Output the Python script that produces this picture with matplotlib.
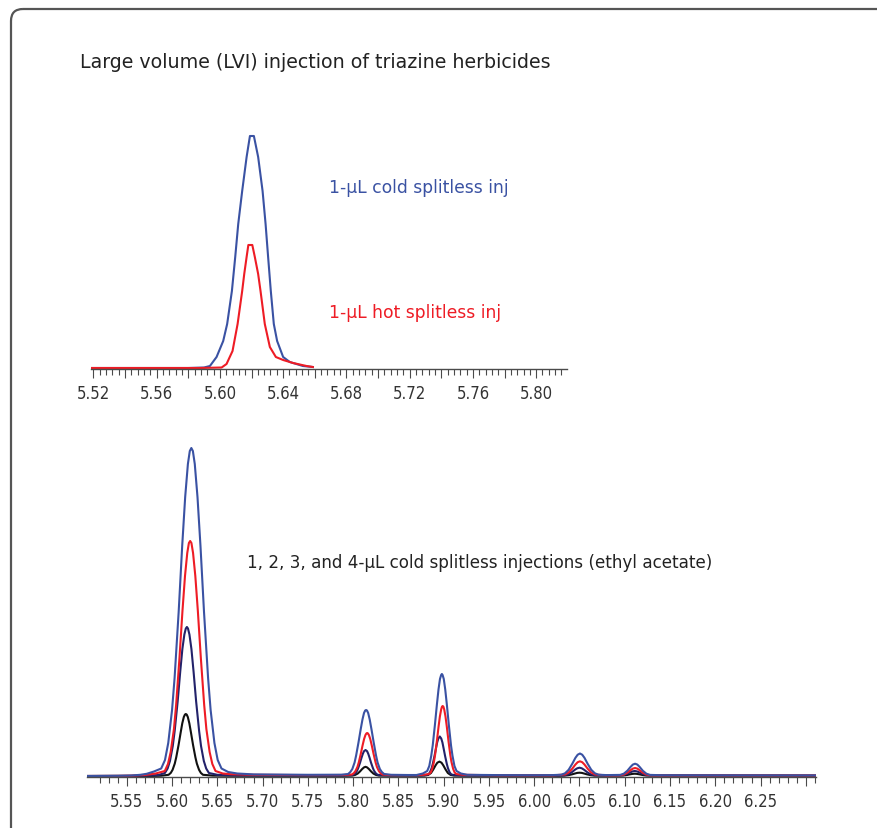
import matplotlib
matplotlib.use("Agg")
import numpy as np
import matplotlib.pyplot as plt
from matplotlib import font_manager
from matplotlib.patches import FancyBboxPatch
from matplotlib.ticker import FixedLocator

plt.rcParams['font.family'] = ['DejaVu Sans']

# ---- data: top panel (1-uL injections), time in min, response in arbitrary units ----
top_cold_t = [5.5185, 5.5800, 5.5900, 5.5937, 5.5979, 5.6021, 5.6046, 5.6076, 5.6097, 5.6116,
              5.6141, 5.6169, 5.6190, 5.6215, 5.6242, 5.6270, 5.6289, 5.6305, 5.6322, 5.6341,
              5.6362, 5.6400, 5.6442, 5.6525, 5.6588]
top_cold_y = [0, 0, 0.5, 2, 11, 27, 44, 77, 111, 144,
              177, 211, 232, 232, 211, 177, 144, 111, 77, 44,
              27, 11, 6, 2, 1]

top_hot_t = [5.5185, 5.5874, 5.6011, 5.6042, 5.6080, 5.6112, 5.6141, 5.6154, 5.6169, 5.6180,
             5.6205, 5.6221, 5.6242, 5.6257, 5.6284, 5.6316, 5.6354, 5.6400, 5.6463, 5.6548,
             5.6588]
top_hot_y = [0, 0, 0.5, 4, 17, 44, 77, 94, 111, 123,
             123, 111, 94, 77, 44, 21, 11, 8, 5, 2,
             1]

# ---- data: bottom panel (1, 2, 3, 4-uL cold splitless) ----
inj4_t = [5.5064, 5.540, 5.555, 5.565, 5.572, 5.580, 5.5880, 5.5922, 5.5958, 5.6000,
          5.6028, 5.6073, 5.6112, 5.6145, 5.6175, 5.6196, 5.6213, 5.6230, 5.6251, 5.6281,
          5.6314, 5.6353, 5.6398, 5.6426, 5.6468, 5.6504, 5.6546, 5.6620, 5.6720, 5.6900,
          5.7500, 5.7870,
          5.7944, 5.7969, 5.7991, 5.8016, 5.8033, 5.8059, 5.8083, 5.8103, 5.8120, 5.8133,
          5.8143, 5.8153, 5.8166, 5.8183, 5.8203, 5.8227, 5.8253, 5.8270, 5.8295, 5.8317,
          5.8342, 5.8420, 5.8600, 5.8700,
          5.8770, 5.8818, 5.8841, 5.8863, 5.8879, 5.8903, 5.8925, 5.8943, 5.8959, 5.8972,
          5.8980, 5.8988, 5.9001, 5.9017, 5.9035, 5.9057, 5.9081, 5.9097, 5.9119, 5.9142,
          5.9190, 5.9260, 5.9600, 6.0000, 6.0200,
          6.0300, 6.0340, 6.0380, 6.0420, 6.0455, 6.0480, 6.0505, 6.0530, 6.0555, 6.0590,
          6.0630, 6.0670, 6.0710, 6.0800,
          6.0949, 6.0989, 6.1029, 6.1064, 6.1089, 6.1114, 6.1139, 6.1164, 6.1199, 6.1239,
          6.1279, 6.1400, 6.2000, 6.3110]
inj4_y = [0, 0.2, 0.5, 1.2, 2.2, 4.5, 7.5, 16, 33, 66,
          98, 164, 230, 279, 312, 325, 328, 325, 312, 279,
          230, 164, 98, 66, 33, 16, 7.5, 4, 2.5, 1.6,
          1.2, 1.3,
          2, 4, 7, 13.5, 20.5, 33.5, 46.5, 56.5, 63, 65.5,
          66, 65.5, 63, 56.5, 46.5, 33.5, 20.5, 13.5, 7, 4,
          2, 1.2, 1.0, 1.0,
          2.5, 5, 10, 20.4, 30.6, 51, 71.4, 86.7, 97, 101,
          102, 101, 97, 86.7, 71.4, 51, 30.6, 20.4, 10, 5,
          2.5, 1.2, 0.9, 0.8, 0.9,
          1.3, 2.7, 6.2, 12.2, 18.2, 21.3, 22.5, 21.3, 18.2, 12.2,
          6.2, 2.7, 1.3, 0.9,
          1.1, 2.3, 5.3, 9.1, 11.4, 12.3, 11.4, 9.1, 5.3, 2.3,
          1.1, 0.8, 0.7, 0.6]

inj3_t = [5.5064, 5.540, 5.555, 5.570, 5.582, 5.5920, 5.5955, 5.5985, 5.6021, 5.6045,
          5.6082, 5.6115, 5.6143, 5.6168, 5.6186, 5.6200, 5.6214, 5.6232, 5.6257, 5.6285,
          5.6318, 5.6355, 5.6379, 5.6415, 5.6445, 5.6480, 5.6560, 5.6650, 5.6900, 5.7500,
          5.7900,
          5.7987, 5.8008, 5.8026, 5.8047, 5.8062, 5.8084, 5.8104, 5.8121, 5.8136, 5.8147,
          5.8155, 5.8163, 5.8174, 5.8189, 5.8206, 5.8226, 5.8248, 5.8263, 5.8284, 5.8302,
          5.8323, 5.8400, 5.8700, 5.8780,
          5.8838, 5.8857, 5.8873, 5.8892, 5.8905, 5.8925, 5.8943, 5.8958, 5.8972, 5.8981,
          5.8989, 5.8997, 5.9006, 5.9020, 5.9035, 5.9053, 5.9073, 5.9086, 5.9105, 5.9121,
          5.9140, 5.9210, 5.9600, 6.0200,
          6.0340, 6.0380, 6.0420, 6.0455, 6.0480, 6.0505, 6.0530, 6.0555, 6.0590, 6.0630,
          6.0670, 6.0800,
          6.0949, 6.0989, 6.1029, 6.1064, 6.1089, 6.1114, 6.1139, 6.1164, 6.1199, 6.1239,
          6.1279, 6.1400, 6.3110]
inj3_y = [0, 0.1, 0.3, 1, 2.5, 5, 12, 24, 47, 71,
          118, 165, 200, 223, 233, 235, 233, 223, 200, 165,
          118, 71, 47, 24, 12, 5, 2.5, 1.8, 1.2, 0.9,
          1.0,
          1.5, 2.9, 5, 9, 13.5, 22, 30.5, 37, 41, 42.6,
          43, 42.6, 41, 37, 30.5, 22, 13.5, 9, 5, 2.9,
          1.5, 0.9, 0.9, 1.2,
          2, 3.5, 7, 14, 21, 35, 49, 59.5, 66.5, 69.3,
          70, 69.3, 66.5, 59.5, 49, 35, 21, 14, 7, 3.5,
          2, 1.2, 0.7, 0.6,
          1.5, 3.5, 7.3, 11.5, 13.8, 14.7, 13.8, 11.5, 7.3, 3.5,
          1.5, 0.6,
          0.7, 1.4, 3.3, 5.8, 7.4, 8.0, 7.4, 5.8, 3.3, 1.4,
          0.7, 0.6, 0.5]

inj2_t = [5.5064, 5.555, 5.570, 5.585, 5.5921, 5.5951, 5.5977, 5.6008, 5.6029, 5.6062,
          5.6090, 5.6114, 5.6136, 5.6152, 5.6164, 5.6176, 5.6192, 5.6214, 5.6238, 5.6266,
          5.6299, 5.6320, 5.6351, 5.6377, 5.6407, 5.6500, 5.6700, 5.7000, 5.7900,
          5.7992, 5.8010, 5.8025, 5.8044, 5.8056, 5.8076, 5.8093, 5.8107, 5.8120, 5.8137,
          5.8154, 5.8167, 5.8181, 5.8198, 5.8218, 5.8230, 5.8249, 5.8264, 5.8282, 5.8400,
          5.8750,
          5.8817, 5.8835, 5.8850, 5.8867, 5.8879, 5.8898, 5.8915, 5.8928, 5.8941, 5.8957,
          5.8973, 5.8986, 5.8999, 5.9016, 5.9035, 5.9047, 5.9064, 5.9079, 5.9097, 5.9200,
          6.0250,
          6.0335, 6.0375, 6.0415, 6.0450, 6.0475, 6.0500, 6.0525, 6.0550, 6.0585, 6.0625,
          6.0665, 6.0800,
          6.0945, 6.0985, 6.1025, 6.1060, 6.1085, 6.1110, 6.1135, 6.1160, 6.1195, 6.1235,
          6.1275, 6.3110]
inj2_y = [0, 0.1, 0.3, 1, 3, 7.5, 15, 30, 45, 74.5,
          104, 127, 141.5, 147.5, 149, 147.5, 141.5, 127, 104, 74.5,
          45, 30, 15, 7.5, 3, 1.2, 0.6, 0.5, 0.5,
          1, 1.6, 2.8, 5.4, 8, 13.2, 18.4, 22.2, 24.8, 26,
          24.8, 22.2, 18.4, 13.2, 8, 5.4, 2.8, 1.6, 1, 0.5,
          0.5,
          1.2, 2, 4, 7.9, 11.9, 19.8, 27.7, 33.6, 37.5, 39.5,
          37.5, 33.6, 27.7, 19.8, 11.9, 7.9, 4, 2, 1.2, 0.5,
          0.4,
          0.7, 1.6, 3.8, 6.3, 7.7, 8.3, 7.7, 6.3, 3.8, 1.6,
          0.7, 0.4,
          0.5, 0.9, 2.1, 3.65, 4.6, 5.0, 4.6, 3.65, 2.1, 0.9,
          0.5, 0.4]

inj1_t = [5.5064, 5.580, 5.5880, 5.5962, 5.5986, 5.6006, 5.6030, 5.6046, 5.6072, 5.6095,
          5.6113, 5.6130, 5.6142, 5.6152, 5.6162, 5.6174, 5.6191, 5.6209, 5.6232, 5.6258,
          5.6274, 5.6298, 5.6318, 5.6342, 5.6450, 5.6600, 5.7900,
          5.7990, 5.8020, 5.8050, 5.8075, 5.8100, 5.8120, 5.8137, 5.8154, 5.8174, 5.8199,
          5.8224, 5.8254, 5.8284, 5.8790,
          5.8830, 5.8860, 5.8885, 5.8910, 5.8930, 5.8953, 5.8976, 5.8996, 5.9021, 5.9046,
          5.9076, 5.9116, 6.0300,
          6.0335, 6.0375, 6.0415, 6.0450, 6.0475, 6.0500, 6.0525, 6.0550, 6.0585, 6.0625,
          6.0665,
          6.0985, 6.1025, 6.1060, 6.1085, 6.1110, 6.1135, 6.1160, 6.1195, 6.1235, 6.3110]
inj1_y = [0, 0.1, 0.3, 1.2, 3.1, 6.2, 12.4, 18.6, 31, 43.4,
          52.7, 59, 61.4, 62, 61.4, 59, 52.7, 43.4, 31, 18.6,
          12.4, 6.2, 3.1, 1.2, 0.4, 0.3, 0.3,
          0.4, 1.0, 2.4, 4.5, 7, 8.6, 9.2, 8.6, 7, 4.5,
          2.4, 1.0, 0.4, 0.4,
          1.1, 3.0, 6.5, 10.6, 13.3, 14.4, 13.3, 10.6, 6.5, 3.0,
          1.1, 0.4, 0.3,
          0.4, 0.8, 1.6, 2.5, 3.1, 3.3, 3.1, 2.5, 1.6, 0.8,
          0.4,
          0.5, 1.0, 1.7, 2.1, 2.3, 2.1, 1.7, 1.0, 0.5, 0.3]

top_ticklabels = ['5.52', '5.56', '5.60', '5.64', '5.68', '5.72', '5.76', '5.80']
bottom_ticklabels = ['5.55', '5.60', '5.65', '5.70', '5.75', '5.80', '5.85', '5.90',
                     '5.95', '6.00', '6.05', '6.10', '6.15', '6.20', '6.25']

BLUE = '#3a52a3'
RED = '#ee1c25'
NAVY = '#23226a'
BLACK = '#111111'
AXCOL = '#4a4a4a'

# condensed face for tick labels if the system has one
has_cond = any(f.name == 'DejaVu Sans' and str(f.stretch) == 'condensed'
               for f in font_manager.fontManager.ttflist)
if has_cond:
    tick_font = font_manager.FontProperties(family='DejaVu Sans', stretch='condensed', size=12)
else:
    tick_font = font_manager.FontProperties(family='DejaVu Sans', size=11)

W, H = 877, 829
fig = plt.figure(figsize=(W / 100, H / 100), dpi=100)

# background axes in pixel coordinates for frame + text
bg = fig.add_axes([0, 0, 1, 1])
bg.set_xlim(0, W)
bg.set_ylim(H, 0)
bg.axis('off')
frame = FancyBboxPatch((11, 10), 1200, 1200, boxstyle='round,pad=0,rounding_size=12',
                       fc='none', ec='#555555', lw=1.6, clip_on=False)
bg.add_patch(frame)

def px_axes(left, top, right, bottom):
    return fig.add_axes([left / W, 1 - bottom / H, (right - left) / W, (bottom - top) / H])

def style_axis(ax):
    for s in ['top', 'right', 'left']:
        ax.spines[s].set_visible(False)
    ax.spines['bottom'].set_color(AXCOL)
    ax.spines['bottom'].set_linewidth(1.0)
    ax.set_yticks([])
    ax.patch.set_alpha(0)
    ax.tick_params(axis='x', which='major', direction='out', length=6.5, width=0.8,
                   color=AXCOL, pad=4.5, labelcolor='#333333')
    ax.tick_params(axis='x', which='minor', direction='out', length=4, width=0.8, color=AXCOL)
    for lab in ax.get_xticklabels():
        lab.set_fontproperties(tick_font)

# top panel
ax1 = px_axes(91, 130, 567, 370)
ax1.plot(top_cold_t, top_cold_y, color=BLUE, lw=1.5, solid_joinstyle='round')
ax1.plot(top_hot_t, top_hot_y, color=RED, lw=1.5, solid_joinstyle='round')
ax1.set_xlim(5.5185, 5.8195)
ax1.set_ylim(-1, 239)
major1 = [5.52 + 0.02 * i for i in range(16)]
ax1.xaxis.set_major_locator(FixedLocator(major1))
ax1.xaxis.set_minor_locator(FixedLocator([5.52 + 0.004 * i for i in range(76)]))
ax1.set_xticklabels([top_ticklabels[i // 2] if i % 2 == 0 else '' for i in range(16)])
style_axis(ax1)

# bottom panel
ax2 = px_axes(87.3, 440, 816, 778)
ax2.plot(inj1_t, inj1_y, color=BLACK, lw=1.5, solid_joinstyle='round')
ax2.plot(inj2_t, inj2_y, color=NAVY, lw=1.5, solid_joinstyle='round')
ax2.plot(inj3_t, inj3_y, color=RED, lw=1.5, solid_joinstyle='round')
ax2.plot(inj4_t, inj4_y, color=BLUE, lw=1.5, solid_joinstyle='round')
ax2.set_xlim(5.5064, 6.3112)
ax2.set_ylim(-1, 337)
major2 = [5.55 + 0.05 * i for i in range(16)]
ax2.xaxis.set_major_locator(FixedLocator(major2))
ax2.xaxis.set_minor_locator(FixedLocator([5.52 + 0.01 * i for i in range(80)]))
ax2.set_xticklabels(bottom_ticklabels + [''])
style_axis(ax2)

# text
bg.text(80, 62, 'Large volume (LVI) injection of triazine herbicides', fontsize=13.7,
        color='#222222', ha='left', va='center')
bg.text(329, 188, '1-µL cold splitless inj', fontsize=12.3, color=BLUE, ha='left', va='center')
bg.text(329, 313, '1-µL hot splitless inj', fontsize=12.3, color=RED, ha='left', va='center')
bg.text(247, 563, '1, 2, 3, and 4-µL cold splitless injections (ethyl acetate)', fontsize=12.1,
        color='#222222', ha='left', va='center')

fig.savefig('out.png', dpi=100)
